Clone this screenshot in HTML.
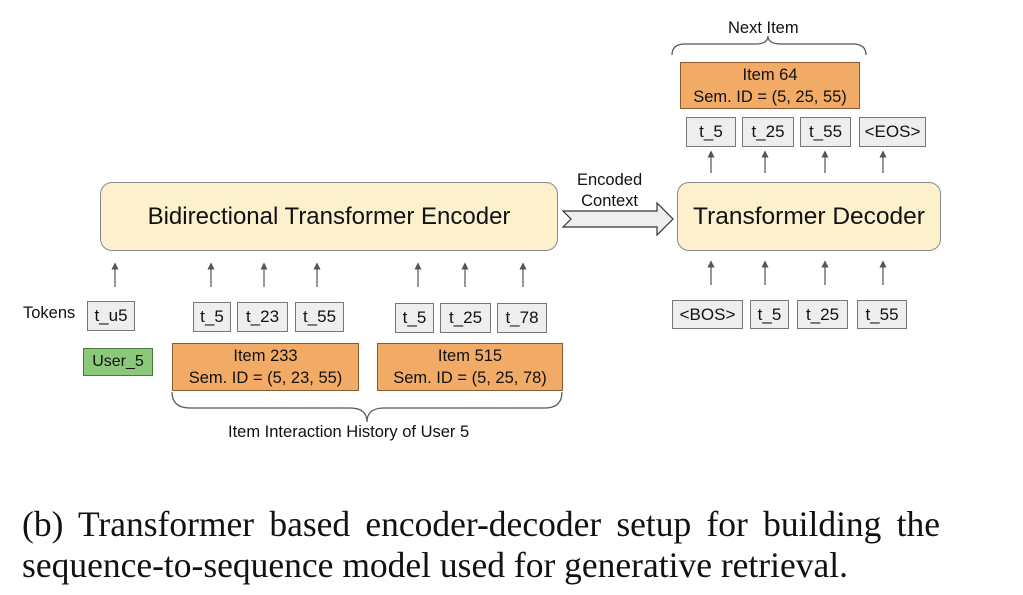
<!DOCTYPE html>
<html><head><style>
body{margin:0;width:1023px;height:595px;background:#fff;position:relative;overflow:hidden;font-family:"Liberation Sans",sans-serif;color:#111}
.a{position:absolute}
.t{position:absolute;background:#eeeeee;border:1px solid #777;box-sizing:border-box;font-size:17px;display:flex;align-items:center;justify-content:center}
.o{position:absolute;background:#f2ab66;border:1px solid #8a5a30;box-sizing:border-box;font-size:16.5px;text-align:center;line-height:22px;padding-top:1px}
.big{position:absolute;background:#fdf1cd;border:1px solid #888;border-radius:12px;box-sizing:border-box;display:flex;align-items:center;justify-content:center;font-size:24px}
.lbl{position:absolute;font-size:16.5px;white-space:nowrap}
.cap{position:absolute;left:22px;font-family:"Liberation Serif",serif;font-size:35.5px;white-space:nowrap}
</style></head><body>
<div class="big" style="left:100px;top:182px;width:458px;height:69px">Bidirectional Transformer Encoder</div>
<div class="big" style="left:677px;top:182px;width:264px;height:69px;font-size:24.5px">Transformer Decoder</div>

<div class="lbl" style="left:23px;top:304px">Tokens</div>
<div class="t" style="left:87px;top:301px;width:48px;height:30px">t_u5</div>
<div class="a" style="left:83px;top:348px;width:70px;height:28px;background:#8cc87a;border:1px solid #4a7a3a;box-sizing:border-box;font-size:16px;display:flex;align-items:center;justify-content:center">User_5</div>

<div class="t" style="left:193px;top:302px;width:38px;height:30px">t_5</div>
<div class="t" style="left:237px;top:302px;width:51px;height:30px">t_23</div>
<div class="t" style="left:295px;top:302px;width:49px;height:30px">t_55</div>
<div class="o" style="left:172px;top:343px;width:187px;height:48px">Item 233<br>Sem. ID = (5, 23, 55)</div>

<div class="t" style="left:395px;top:303px;width:39px;height:30px">t_5</div>
<div class="t" style="left:440px;top:303px;width:51px;height:30px">t_25</div>
<div class="t" style="left:497px;top:303px;width:50px;height:30px">t_78</div>
<div class="o" style="left:377px;top:343px;width:186px;height:48px">Item 515<br>Sem. ID = (5, 25, 78)</div>

<div class="lbl" style="left:228px;top:423px">Item Interaction History of User 5</div>

<div class="lbl" style="left:577px;top:170px;text-align:center;line-height:21px">Encoded<br>Context</div>

<div class="t" style="left:672px;top:300px;width:71px;height:29px">&lt;BOS&gt;</div>
<div class="t" style="left:750px;top:300px;width:39px;height:29px">t_5</div>
<div class="t" style="left:797px;top:300px;width:51px;height:29px">t_25</div>
<div class="t" style="left:857px;top:300px;width:50px;height:29px">t_55</div>

<div class="t" style="left:686px;top:117px;width:50px;height:30px">t_5</div>
<div class="t" style="left:742px;top:117px;width:52px;height:30px">t_25</div>
<div class="t" style="left:800px;top:117px;width:51px;height:30px">t_55</div>
<div class="t" style="left:859px;top:117px;width:67px;height:30px">&lt;EOS&gt;</div>
<div class="o" style="left:680px;top:62px;width:180px;height:47px">Item 64<br>Sem. ID = (5, 25, 55)</div>
<div class="lbl" style="left:728px;top:19px">Next Item</div>

<svg class="a" style="left:0;top:0" width="1023" height="595">
<defs><marker id="m" markerWidth="6" markerHeight="6" refX="3" refY="3" orient="auto"><path d="M0,0 L6,3 L0,6 z" fill="#555"/></marker></defs>
<g stroke="#555" stroke-width="1.2" marker-end="url(#m)">
<line x1="115" y1="287" x2="115" y2="266"/>
<line x1="211" y1="287" x2="211" y2="266"/>
<line x1="264" y1="287" x2="264" y2="266"/>
<line x1="317" y1="287" x2="317" y2="266"/>
<line x1="418" y1="287" x2="418" y2="266"/>
<line x1="465" y1="287" x2="465" y2="266"/>
<line x1="523" y1="287" x2="523" y2="266"/>
<line x1="711" y1="285" x2="711" y2="264"/>
<line x1="765" y1="285" x2="765" y2="264"/>
<line x1="825" y1="285" x2="825" y2="264"/>
<line x1="883" y1="285" x2="883" y2="264"/>
<line x1="711" y1="173" x2="711" y2="154"/>
<line x1="765" y1="173" x2="765" y2="154"/>
<line x1="825" y1="173" x2="825" y2="154"/>
<line x1="883" y1="173" x2="883" y2="154"/>
</g>
<path d="M563,211 L657,211 L657,203 L673,219 L657,235 L657,227 L563,227 L571,219 Z" fill="#eee" stroke="#333" stroke-width="1.2"/>
<path d="M172,392 Q172,408 190,408 L350,408 Q367,408 367,422 Q367,408 384,408 L545,408 Q562,408 562,392" fill="none" stroke="#555" stroke-width="1.2"/>
<path d="M672,55 Q672,44 685,44 L755,44 Q768,44 768,36 Q768,44 781,44 L853,44 Q866,44 866,55" fill="none" stroke="#555" stroke-width="1.2"/>
</svg>

<div class="cap" style="top:503px;width:918px;text-align:justify;text-align-last:justify;white-space:normal">(b) Transformer based encoder-decoder setup for building the</div>
<div class="cap" style="top:544px">sequence-to-sequence model used for generative retrieval.</div>
</body></html>
